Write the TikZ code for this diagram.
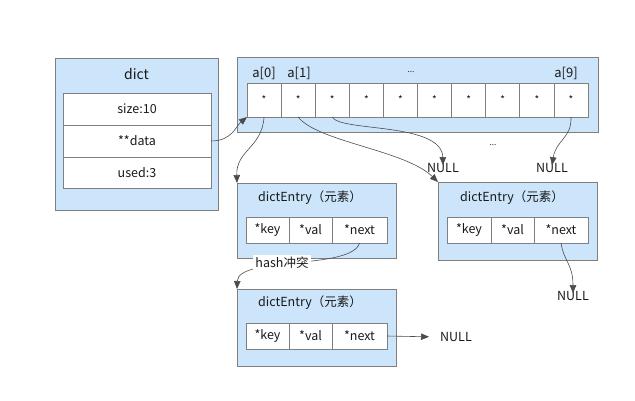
\documentclass[tikz,border=0pt]{standalone}
\usepackage{fontspec}
\setmainfont{Noto Sans CJK SC}
\usetikzlibrary{arrows.meta}
\definecolor{boxfill}{HTML}{CCE5FB}
\definecolor{boxline}{HTML}{7F7F7F}
\tikzset{
  outer/.style={draw=boxline, fill=boxfill, line width=1pt, inner sep=0pt, outer sep=0pt, anchor=north west, rectangle},
  cell/.style={draw=boxline, fill=white, line width=0.8pt, inner sep=0pt, outer sep=0pt, anchor=north west, rectangle, font=\fontsize{12.5}{14}\selectfont, text=black!90},
  lbl/.style={font=\fontsize{12.5}{14}\selectfont, text=black!90, inner sep=0pt},
  nul/.style={font=\fontsize{12.5}{14}\selectfont, text=black!90, inner sep=1pt},
  conn/.style={draw=black!70, line width=0.6pt, -{Triangle[length=8pt,width=6.5pt]}}
}
\begin{document}
\begin{tikzpicture}[x=1pt,y=-1pt]
\useasboundingbox (0,0) rectangle (635,400);
% dict
\node[outer, minimum width=163pt, minimum height=152pt] (dict) at (55,58) {};
\node[lbl, font=\fontsize{14}{16}\selectfont] (dicttitle) at (136.5,74) {dict};
\node[cell, minimum width=148pt, minimum height=32pt] (size) at (63,93) {size:10};
\node[cell, minimum width=148pt, minimum height=32pt] (data) at (63,125) {**data};
\node[cell, minimum width=148pt, minimum height=31pt] (used) at (63,157) {used:3};
% array
\node[outer, minimum width=361pt, minimum height=75pt] (arr) at (237,57) {};
\foreach \i in {0,...,9} {
  \node[cell, minimum width=34.1pt, minimum height=34pt, font=\fontsize{10}{12}\selectfont] (c\i) at ({247+34.1*\i},83) {*};
}
\node[lbl, font=\fontsize{13}{15}\selectfont] (a0) at (264,73) {a[0]};
\node[lbl, font=\fontsize{13}{15}\selectfont] (a1) at (299,73) {a[1]};
\node[lbl, font=\fontsize{8}{9}\selectfont] (adots) at (411,72) {...};
\node[lbl, font=\fontsize{13}{15}\selectfont] (a9) at (566,73) {a[9]};
% entry 1
\node[outer, minimum width=159pt, minimum height=75pt] (e1) at (237,183) {};
\node[lbl] (e1t) at (310,198) {dictEntry（元素）};
\node[cell, minimum width=43pt, minimum height=26pt] (k1) at (246,217) {*key};
\node[cell, minimum width=43pt, minimum height=26pt] (v1) at (289,217) {*val};
\node[cell, minimum width=55pt, minimum height=26pt] (n1) at (332,217) {*next};
% entry 2
\node[outer, minimum width=159pt, minimum height=77pt] (e2) at (237,289) {};
\node[lbl] (e2t) at (310,303) {dictEntry（元素）};
\node[cell, minimum width=43pt, minimum height=26pt] (k2) at (246,323) {*key};
\node[cell, minimum width=43pt, minimum height=26pt] (v2) at (289,323) {*val};
\node[cell, minimum width=55pt, minimum height=26pt] (n2) at (332,323) {*next};
% entry 3
\node[outer, minimum width=159pt, minimum height=78pt] (e3) at (438,182) {};
\node[lbl] (e3t) at (512,198) {dictEntry（元素）};
\node[cell, minimum width=44pt, minimum height=26pt] (k3) at (447,217) {*key};
\node[cell, minimum width=43pt, minimum height=26pt] (v3) at (491,217) {*val};
\node[cell, minimum width=54pt, minimum height=26pt] (n3) at (534,217) {*next};
% NULLs
\node[nul] (null1) at (443,168) {NULL};
\node[nul] (null2) at (552,168) {NULL};
\node[nul] (null3) at (456,337) {NULL};
\node[nul] (null4) at (573,296) {NULL};
\node[lbl, font=\fontsize{8}{9}\selectfont] (mdots) at (493,145) {...};
% connectors
\draw[conn] (data.east) .. controls (232,141) and (236,126) .. (c0.south west);
\draw[conn] (c0.south) .. controls (262,148) and (236,150) .. (e1.north west);
\draw[conn] (c1.south) .. controls (318,142) and (405,150) .. (e3.north west);
\draw[conn] (c2.south) .. controls (340,132) and (442,122) .. ([yshift=-3pt]null1.north);
\draw[conn] (c9.south) .. controls (572,138) and (556,140) .. ([yshift=-3pt]null2.north);
\draw[conn] (n1.south) .. controls (352,270) and (238,256) .. (e2.north west);
\node[lbl, fill=white, inner xsep=2pt, inner ysep=2pt] (hash) at (282,263) {hash冲突};
\draw[conn, shorten >=10pt] (n2.east) -- (null3.west);
\draw[conn] (n3.south) .. controls (564,262) and (573,264) .. ([yshift=-3pt]null4.north);
\end{tikzpicture}
\end{document}
